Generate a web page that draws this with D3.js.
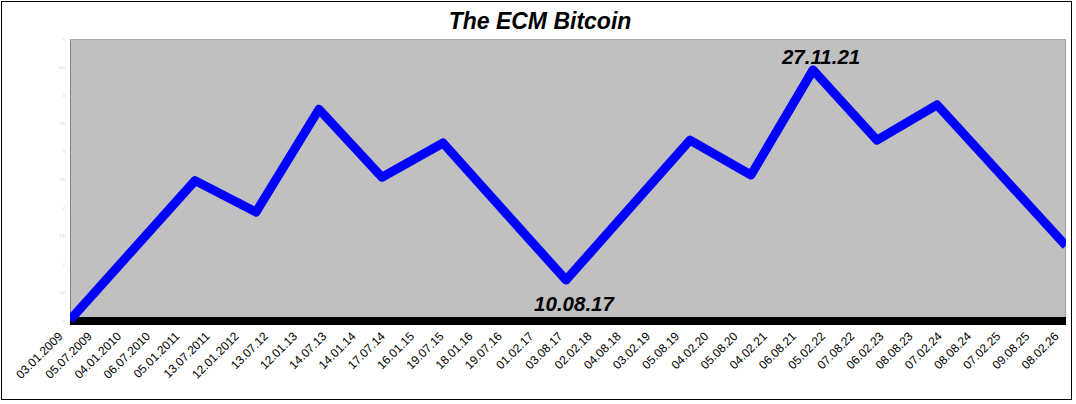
<!DOCTYPE html>
<html><head><meta charset="utf-8">
<script src="https://cdn.jsdelivr.net/npm/d3@7"></script>
<style>
html,body{margin:0;padding:0;background:#fff;}
svg{display:block;}
</style></head>
<body>
<svg id="chart" width="1076" height="404"></svg>
<script>
const title = "The ECM Bitcoin";
const tickLabels = ["03.01.2009","05.07.2009","04.01.2010","06.07.2010","05.01.2011","13.07.2011","12.01.2012","13.07.12","12.01.13","14.07.13","14.01.14","17.07.14","16.01.15","19.07.15","18.01.16","19.07.16","01.02.17","03.08.17","02.02.18","04.08.18","03.02.19","05.08.19","04.02.20","05.08.20","04.02.21","06.08.21","05.02.22","07.08.22","06.02.23","08.08.23","07.02.24","08.08.24","07.02.25","09.08.25","08.02.26"];
const seriesDates = ["2009-01-03","2011-02-26","2012-03-14","2013-04-13","2014-05-13","2015-05-31","2017-07-10","2019-08-26","2020-09-12","2021-10-06","2022-11-11","2023-11-22","2026-02-08"];
const seriesValues = [0, 2.48, 1.92, 3.75, 2.54, 3.15, 0.71, 3.20, 2.58, 4.45, 3.20, 3.83, 1.32];
const yTicks = [0,0.5,1,1.5,2,2.5,3,3.5,4,4.5,5];
const annotations = [{label:"27.11.21", index:9, pos:"above"},{label:"10.08.17", index:6, pos:"below"}];

(function(){
const svg = d3.select("#chart");
const parseTick = s => {
  const p = s.split(".");
  let yr = +p[2]; if (yr < 100) yr += 2000;
  return new Date(yr, +p[1]-1, +p[0]);
};
const parseISO = d3.timeParse("%Y-%m-%d");
const pLeft = 70, pRight = 1066, pTop = 39, pBottom = 320;

const x = d3.scaleTime()
  .domain([parseTick(tickLabels[0]), parseTick(tickLabels[tickLabels.length-1])])
  .range([pLeft, pRight]);
const y = d3.scaleLinear().domain([0,5]).range([pBottom, pTop]);

// outer border
svg.append("rect").attr("x",1.5).attr("y",1.5).attr("width",1070).attr("height",398)
  .attr("fill","#fff").attr("stroke","#000").attr("stroke-width",1);

// title
svg.append("text").attr("x",540).attr("y",29).attr("text-anchor","middle")
  .attr("font-family","Liberation Sans, Arial, sans-serif").attr("font-size",23)
  .attr("font-weight","bold").attr("font-style","italic").attr("fill","#000").text(title);

// plot background
svg.append("rect").attr("x",pLeft).attr("y",pTop).attr("width",pRight-pLeft).attr("height",pBottom-pTop)
  .attr("fill","#c0c0c0");
svg.append("line").attr("x1",pLeft+0.5).attr("x2",pLeft+0.5).attr("y1",pTop).attr("y2",pBottom)
  .attr("stroke","#808080").attr("stroke-width",1);
svg.append("line").attr("x1",pRight-0.5).attr("x2",pRight-0.5).attr("y1",pTop).attr("y2",pBottom)
  .attr("stroke","#a0a0a0").attr("stroke-width",1);
svg.append("line").attr("x1",pLeft).attr("x2",pRight).attr("y1",pTop+0.5).attr("y2",pTop+0.5)
  .attr("stroke","#a8a8a8").attr("stroke-width",1);

// y axis (faint tiny labels)
const yAxis = d3.axisLeft(y).tickValues(yTicks).tickSize(0).tickPadding(5).tickFormat(d3.format("~g"));
const gy = svg.append("g").attr("transform",`translate(${pLeft},0)`).call(yAxis);
gy.select(".domain").remove();
gy.selectAll("text").attr("font-family","Liberation Sans, Arial, sans-serif").attr("font-size",4)
  .attr("fill","#c8c8c8");

// black baseline bar
svg.append("rect").attr("x",pLeft).attr("y",y(0)-3).attr("width",pRight-pLeft).attr("height",8).attr("fill","#000");

// x axis
const xAxis = d3.axisBottom(x).tickValues(tickLabels.map(parseTick)).tickSize(0)
  .tickFormat((d,i)=>tickLabels[i]);
const gx = svg.append("g").attr("transform",`translate(0,${pBottom})`).call(xAxis);
gx.select(".domain").remove();
gx.selectAll("text")
  .attr("font-family","Liberation Sans, Arial, sans-serif").attr("font-size",12).attr("fill","#000")
  .attr("text-anchor","end").attr("dy",0).attr("y",0)
  .attr("transform","translate(-7,17) rotate(-45)");

// line
const data = seriesDates.map((d,i)=>({date:parseISO(d), value:seriesValues[i]}));
const line = d3.line().x(d=>x(d.date)).y(d=>y(d.value));
svg.append("clipPath").attr("id","plotclip").append("rect")
  .attr("x",pLeft).attr("y",pTop).attr("width",pRight-pLeft).attr("height",pBottom-pTop+8);
svg.append("path").datum(data).attr("d",line).attr("fill","none")
  .attr("stroke","#0000ff").attr("stroke-width",9).attr("stroke-linejoin","round")
  .attr("clip-path","url(#plotclip)");

// annotations
annotations.forEach(a=>{
  const d = data[a.index];
  svg.append("text").attr("x",x(d.date)+8).attr("y", a.pos==="above" ? y(d.value)-6 : y(d.value)+31)
    .attr("text-anchor","middle").attr("font-family","Liberation Sans, Arial, sans-serif")
    .attr("font-size",20.5).attr("font-weight","bold").attr("font-style","italic").attr("fill","#000")
    .text(a.label);
});
})();
</script>
</body></html>
